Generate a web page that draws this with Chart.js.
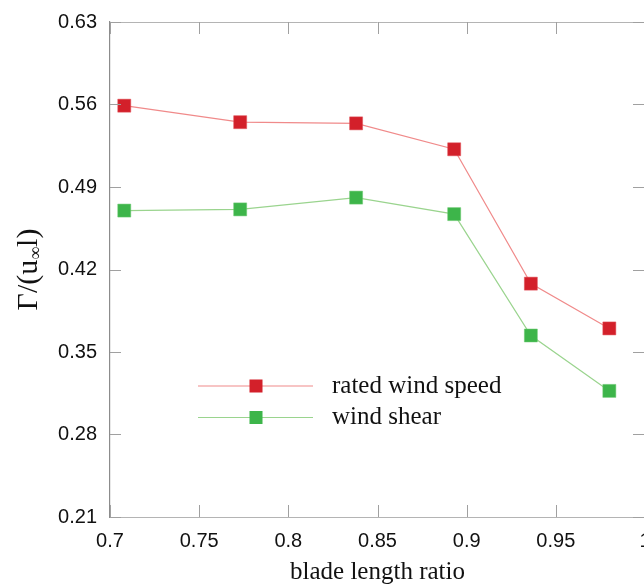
<!DOCTYPE html>
<html>
<head>
<meta charset="utf-8">
<script src="https://cdn.jsdelivr.net/npm/chart.js@4.4.1/dist/chart.umd.min.js"></script>
<style>
  html, body { margin: 0; padding: 0; background: #fff; overflow: hidden; }
  #wrap { position: relative; width: 700px; height: 585px; }
</style>
</head>
<body>
<div id="wrap"><canvas id="c"></canvas></div>
<script>
// ---- data ----
const bladeLengthRatio = [0.708, 0.773, 0.838, 0.893, 0.936, 0.98];
const ratedWindSpeed   = [0.559, 0.545, 0.544, 0.522, 0.408, 0.370];
const windShear        = [0.470, 0.471, 0.481, 0.467, 0.364, 0.317];
const xTickValues = [0.7, 0.75, 0.8, 0.85, 0.9, 0.95, 1.0];
const xTickLabels = ['0.7', '0.75', '0.8', '0.85', '0.9', '0.95', '1'];
const yTickValues = [0.21, 0.28, 0.35, 0.42, 0.49, 0.56, 0.63];
const yTickLabels = ['0.21', '0.28', '0.35', '0.42', '0.49', '0.56', '0.63'];
const seriesNames = ['rated wind speed', 'wind shear'];

const toPoints = ys => bladeLengthRatio.map((x, i) => ({x: x, y: ys[i]}));

const frameColor = '#b4b4b4';
const axisColor = '#8c8c8c';

const innerTicks = {
  id: 'innerTicks',
  afterDraw(chart) {
    const {ctx, chartArea: a, scales: {x, y}} = chart;
    ctx.save();
    ctx.lineWidth = 1;
    ctx.strokeStyle = frameColor;
    ctx.beginPath();
    ctx.moveTo(a.left, a.top + 0.5); ctx.lineTo(a.right, a.top + 0.5);
    ctx.moveTo(a.right + 0.5, a.top); ctx.lineTo(a.right + 0.5, a.bottom);
    ctx.stroke();
    ctx.strokeStyle = '#a0a0a0';
    ctx.beginPath();
    xTickValues.forEach(v => {
      const px = Math.round(x.getPixelForValue(v)) + 0.5;
      ctx.moveTo(px, a.bottom); ctx.lineTo(px, a.bottom - 12);
      ctx.moveTo(px, a.top); ctx.lineTo(px, a.top + 12);
    });
    yTickValues.forEach(v => {
      const py = Math.round(y.getPixelForValue(v)) + 0.5;
      ctx.moveTo(a.left, py); ctx.lineTo(a.left + 11, py);
      ctx.moveTo(a.right, py); ctx.lineTo(a.right - 12, py);
    });
    ctx.stroke();
    ctx.restore();
  }
};

const customLegend = {
  id: 'customLegend',
  afterDatasetsDraw(chart) {
    const {ctx} = chart;
    ctx.save();
    chart.data.datasets.forEach((ds, i) => {
      const yy = 386 + i * 31.5;
      ctx.strokeStyle = ds.borderColor;
      ctx.lineWidth = 1.2;
      ctx.beginPath();
      ctx.moveTo(198, yy); ctx.lineTo(313, yy);
      ctx.stroke();
      ctx.fillStyle = ds.pointBackgroundColor;
      ctx.fillRect(256 - 6.5, yy - 6.5, 13, 13);
      ctx.fillStyle = '#111';
      ctx.font = '25px "Liberation Serif", "Times New Roman", serif';
      ctx.textBaseline = 'middle';
      ctx.textAlign = 'left';
      ctx.fillText(ds.label, 332, yy);
    });
    ctx.restore();
  }
};

const yTitle = {
  id: 'yTitle',
  afterDraw(chart) {
    const {ctx, chartArea: a} = chart;
    const cy = (a.top + a.bottom) / 2;
    ctx.save();
    ctx.translate(29, cy);
    ctx.rotate(-Math.PI / 2);
    ctx.fillStyle = '#111';
    ctx.textBaseline = 'middle';
    ctx.textAlign = 'left';
    const big = '30px "Liberation Serif", "Times New Roman", serif';
    const small = '18px "Liberation Serif", "Times New Roman", serif';
    const p1 = 'Γ/(u', p2 = '∞', p3 = 'l)';
    ctx.font = big; const w1 = ctx.measureText(p1).width; const w3 = ctx.measureText(p3).width;
    ctx.font = small; const w2 = ctx.measureText(p2).width;
    let x0 = -(w1 + w2 + w3) / 2;
    ctx.font = big; ctx.fillText(p1, x0, 0);
    ctx.font = small; ctx.fillText(p2, x0 + w1, 7);
    ctx.font = big; ctx.fillText(p3, x0 + w1 + w2, 0);
    ctx.restore();
  }
};

new Chart(document.getElementById('c'), {
  type: 'line',
  data: {
    datasets: [
      {
        label: seriesNames[0],
        data: toPoints(ratedWindSpeed),
        borderColor: '#f08a8a',
        borderWidth: 1.2,
        pointStyle: 'rect',
        pointRadius: 9.2,
        pointBackgroundColor: '#d3202a',
        pointBorderColor: '#e05058',
        pointBorderWidth: 0.5,
        tension: 0
      },
      {
        label: seriesNames[1],
        data: toPoints(windShear),
        borderColor: '#9ad48e',
        borderWidth: 1.2,
        pointStyle: 'rect',
        pointRadius: 9.2,
        pointBackgroundColor: '#3db54a',
        pointBorderColor: '#6cc870',
        pointBorderWidth: 0.5,
        tension: 0
      }
    ]
  },
  options: {
    responsive: true,
    maintainAspectRatio: false,
    animation: false,
    layout: { padding: { left: 0, right: 55, top: 22, bottom: 0 } },
    plugins: { legend: { display: false }, tooltip: { enabled: false } },
    scales: {
      x: {
        type: 'linear',
        min: 0.7, max: 1.0,
        afterBuildTicks: s => { s.ticks = xTickValues.map(v => ({value: v})); },
        afterFit: s => { s.height = 68; },
        grid: { display: true, drawOnChartArea: false, drawTicks: false },
        border: { color: frameColor, width: 1 },
        ticks: {
          padding: 12,
          color: '#111',
          font: { family: '"Liberation Sans", Arial, sans-serif', size: 20 },
          maxRotation: 0,
          callback: (v, i) => xTickLabels[i]
        },
        title: {
          display: true,
          text: 'blade length ratio',
          color: '#111',
          font: { family: '"Liberation Serif", "Times New Roman", serif', size: 25, lineHeight: 1 },
          padding: { top: 0, bottom: 0 }
        }
      },
      y: {
        type: 'linear',
        min: 0.21, max: 0.63,
        afterBuildTicks: s => { s.ticks = yTickValues.map(v => ({value: v})); },
        afterFit: s => { s.width = 110; },
        grid: { display: true, drawOnChartArea: false, drawTicks: false },
        border: { color: axisColor, width: 1.2 },
        ticks: {
          padding: 13,
          color: '#111',
          font: { family: '"Liberation Sans", Arial, sans-serif', size: 20, lineHeight: 0.85 },
          callback: (v, i) => yTickLabels[i]
        }
      }
    }
  },
  plugins: [innerTicks, customLegend, yTitle]
});
</script>
</body>
</html>
